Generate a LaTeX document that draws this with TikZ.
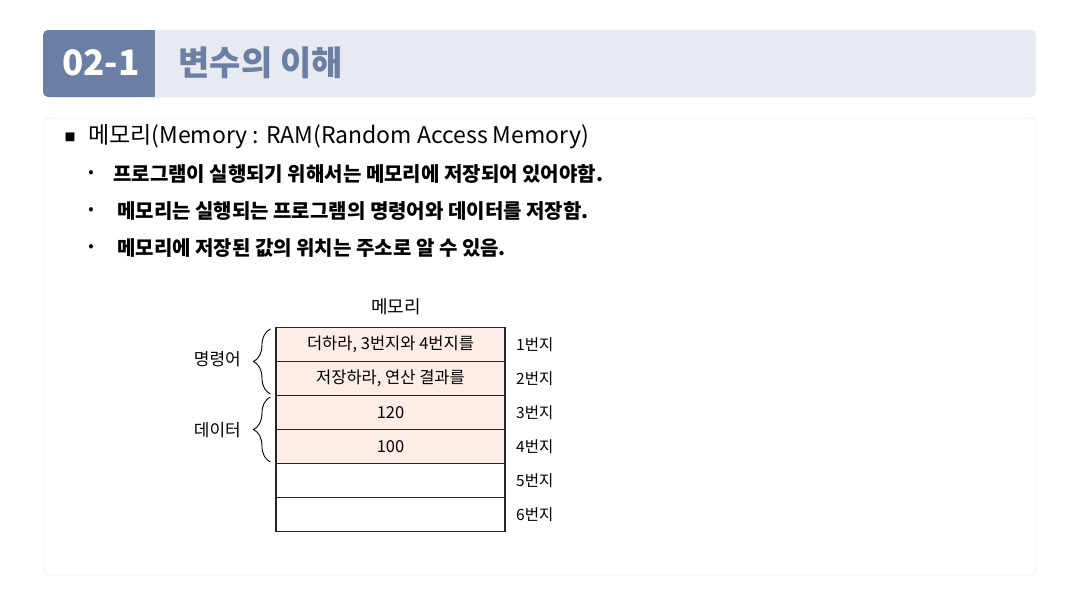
\documentclass[tikz,border=0pt]{standalone}
\usepackage{fontspec}
\setmainfont{Noto Sans CJK KR}
\usetikzlibrary{positioning,decorations.pathreplacing}
\definecolor{headdark}{HTML}{6B7FA5}
\definecolor{headlight}{HTML}{E8EAF1}
\definecolor{cellpink}{HTML}{FCEDE7}
\definecolor{boxline}{HTML}{E6E6E6}
\tikzset{
    cell/.style={draw=black!85, line width=1.1pt, minimum width=229pt, minimum height=34pt, inner sep=0pt, font=\fontsize{16.5}{18}\selectfont},
    addr/.style={anchor=west, inner sep=0pt, font=\fontsize{15.5}{17}\selectfont},
    grp/.style={anchor=east, inner sep=0pt, font=\fontsize{17}{19}\selectfont},
    subline/.style={anchor=west, inner sep=0pt, font=\bfseries\fontsize{20}{24}\selectfont},
    dot/.style={inner sep=0pt, font=\fontsize{16}{18}\selectfont},
}
\begin{document}
\begin{tikzpicture}[x=1pt, y=-1pt]
                \useasboundingbox[fill=white] (0,0) rectangle (1078,603);
                % header bar
                \fill[headlight, rounded corners=5pt] (43,30) rectangle (1036,97);
                \fill[headdark, rounded corners=5pt] (43,30) rectangle (165,97);
                \fill[headlight] (155,30) rectangle (175,97);
                \node[text=white, font=\bfseries\fontsize{35}{40}\selectfont] (num) at (101,63) {02-1};
                \node[anchor=west, text=headdark, font=\bfseries\fontsize{34}{40}\selectfont] (title) at (175,63) {변수의 이해};
                % content box
                \draw[boxline, rounded corners=6pt] (44,118) rectangle (1036,575);
                \node[inner sep=0pt, font=\fontsize{11}{12}\selectfont] (sq) at (70,137) {■};
                \node[anchor=west, inner sep=0pt, font=\fontsize{23}{26}\selectfont] (head) at (88,137) {메모리(Memory : RAM(Random Access Memory)};
                \foreach[count=\i] \t/\xs in {{프로그램이 실행되기 위해서는 메모리에 저장되어 있어야함.}/113,
                                               {메모리는 실행되는 프로그램의 명령어와 데이터를 저장함.}/117,
                                               {메모리에 저장된 값의 위치는 주소로 알 수 있음.}/117}
                {
                    \node[dot] (d\i) at (91,137+37*\i) {•};
                    \node[subline] (s\i) at (\xs,137+37*\i) {\t};
                }
                % memory
                \node[font=\fontsize{18}{20}\selectfont] (mem) at (396,307) {메모리};
                \foreach[count=\i] \t/\c in {{더하라, 3번지와 4번지를}/cellpink, {저장하라, 연산 결과를}/cellpink,
                                             120/cellpink, 100/cellpink, {}/white, {}/white}
                {
                    \node[cell, fill=\c] (r\i) at (390.5,310.5+34*\i) {\t};
                    \node[addr] (a\i) at (516,310.5+34*\i) {{\i}번지};
                }
                \draw[line width=0.9pt, decorate, decoration={brace, amplitude=17pt}] ([xshift=-5pt, yshift=2pt]r2.south west) -- ([xshift=-5pt, yshift=-2pt]r1.north west);
                \draw[line width=0.9pt, decorate, decoration={brace, amplitude=17pt}] ([xshift=-5pt, yshift=2pt]r4.south west) -- ([xshift=-5pt, yshift=-2pt]r3.north west);
                \node[grp] (cmd) at (241,359) {명령어};
                \node[grp] (dat) at (241,430) {데이터};
\end{tikzpicture}
\end{document}
